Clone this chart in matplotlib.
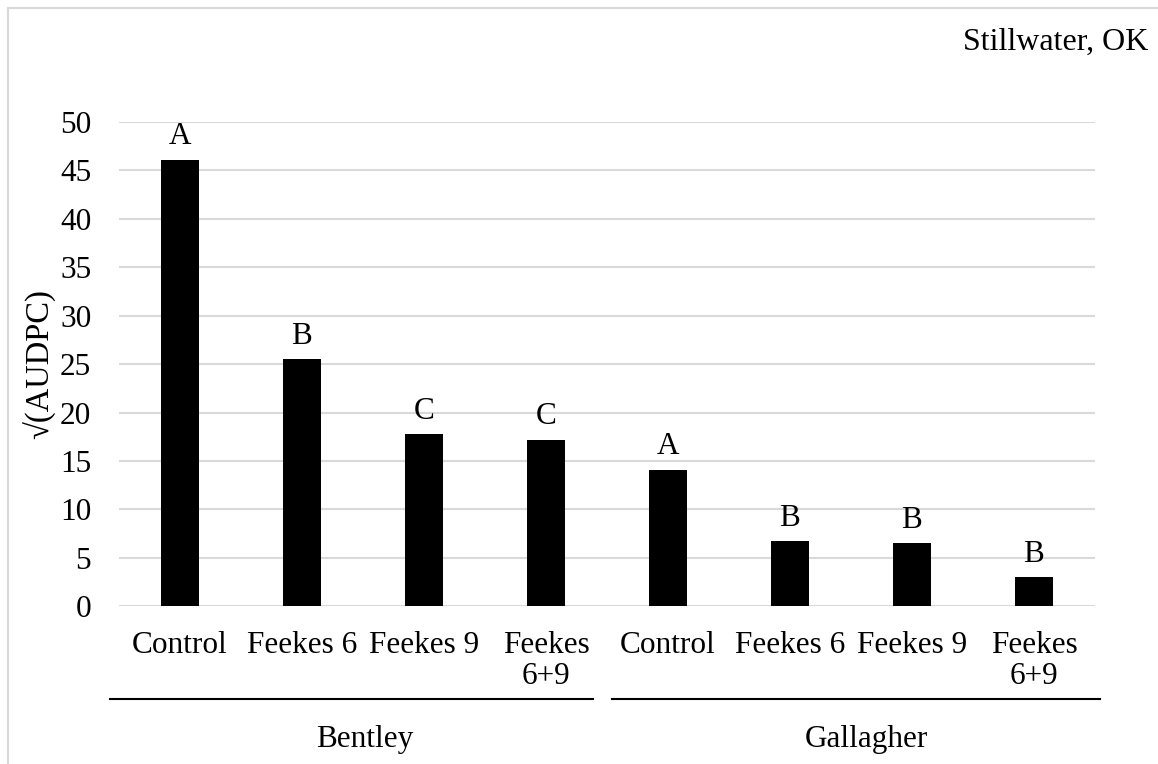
import matplotlib.pyplot as plt
from matplotlib.lines import Line2D
import numpy as np

plt.rcParams['font.family'] = ['Liberation Serif', 'DejaVu Serif']

# data
treatments = ['Control', 'Feekes 6', 'Feekes 9', 'Feekes\n6+9',
              'Control', 'Feekes 6', 'Feekes 9', 'Feekes\n6+9']
values = [46.1, 25.5, 17.8, 17.2, 14.1, 6.75, 6.5, 3.0]
letters = ['A', 'B', 'C', 'C', 'A', 'B', 'B', 'B']
groups = ['Bentley', 'Gallagher']
location = 'Stillwater, OK'

fs = 22.5
grid_col = '#d9d9d9'

fig = plt.figure(figsize=(11.58, 7.64), dpi=100)
ax = fig.add_axes([119 / 1158, 1 - 606.3 / 764, (1095 - 119) / 1158, (606.3 - 122) / 764])

x = np.arange(len(values))
ax.bar(x, values, width=0.31, color='black', zorder=3)

for xi, v, lab in zip(x, values, letters):
    ax.annotate(lab, (xi, v), xytext=(0, 6), textcoords='offset points',
                ha='center', va='bottom', fontsize=fs)

ax.set_xlim(-0.5, len(values) - 0.5)
ax.set_ylim(0, 50)
ax.set_yticks(np.arange(0, 51, 5))
ax.set_xticks(x)
ax.set_xticklabels(treatments, fontsize=fs, linespacing=1.1)
ax.tick_params(axis='y', labelsize=fs, length=0, pad=20)
ax.tick_params(axis='x', length=0, pad=18)
ax.yaxis.grid(True, color=grid_col, linewidth=1.5, zorder=0)
for s in ax.spines.values():
    s.set_visible(False)

ax.set_ylabel('√(AUDPC)', fontsize=23.5, labelpad=3)

# group brackets under the category labels
fig.add_artist(Line2D([110 / 1158, 593 / 1158], [1 - 699 / 764] * 2, color='black', lw=1.5))
fig.add_artist(Line2D([612 / 1158, 1100 / 1158], [1 - 699 / 764] * 2, color='black', lw=1.5))
fig.text(365 / 1158, 1 - 740 / 764, groups[0], ha='center', va='center', fontsize=fs)
fig.text(866 / 1158, 1 - 740 / 764, groups[1], ha='center', va='center', fontsize=fs)

fig.text(1148 / 1158, 1 - 42 / 764, location, ha='right', va='center', fontsize=23)

# chart area border (only top and left visible in the reference)
fig.add_artist(Line2D([8 / 1158, 1], [1 - 8 / 764] * 2, color=grid_col, lw=1.5))
fig.add_artist(Line2D([8 / 1158] * 2, [0, 1 - 8 / 764], color=grid_col, lw=1.5))

fig.savefig('out.png', dpi=100)
